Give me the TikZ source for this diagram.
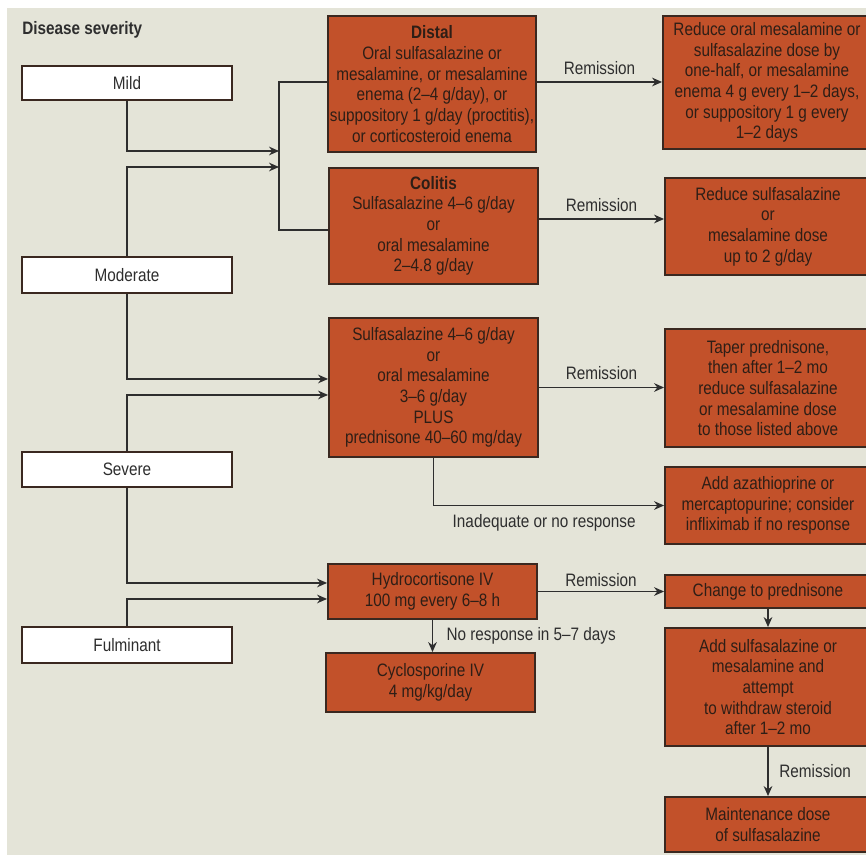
\documentclass[tikz,border=0pt]{standalone}
\usepackage{fontspec}
\setmainfont[FakeStretch=0.85]{Liberation Sans}
\usetikzlibrary{arrows.meta}
\definecolor{bgc}{HTML}{E4E4D8}
\definecolor{boxc}{HTML}{C2512A}
\definecolor{edgec}{HTML}{3A2820}
\definecolor{txtc}{HTML}{2E1E16}
\definecolor{linec}{HTML}{2E2E2E}
\begin{document}
\begin{tikzpicture}[x=0.75pt,y=-0.75pt,
  every node/.style={font=\fontsize{13.5pt}{15.5pt}\selectfont, align=center, inner sep=0pt},
  tbox/.style={draw=edgec, line width=1.4pt, fill=boxc, text=txtc},
  sbox/.style={draw=edgec, line width=1.1pt, fill=white, text=linec, minimum width=157.5pt},
  sz/.style 2 args={minimum width=#1*0.75pt, minimum height=#2*0.75pt},
  arr/.style={draw=linec, line width=1.1pt, -{Stealth[length=7.5pt,width=6.5pt]}},
  ln/.style={draw=linec, line width=1.1pt},
  lbl/.style={text=linec}
]
\useasboundingbox (0,0) rectangle (866,855);
\fill[white] (0,0) rectangle (866,855);
\fill[bgc] (7,8) rectangle (866,855);

% title
\node[lbl, anchor=west, font=\fontsize{13.5pt}{15.5pt}\selectfont\bfseries] (title) at (22,30) {Disease severity};

% severity boxes
\node[sbox, sz={210}{34}] (mild) at (127,83) {Mild};
\node[sbox, sz={210}{36}] (moderate) at (127,275) {Moderate};
\node[sbox, sz={210}{35}] (severe) at (127,469.5) {Severe};
\node[sbox, sz={210}{36}] (fulminant) at (127,645) {Fulminant};

% treatment boxes
\node[tbox, sz={208}{136}] (distal) at (432,84) {\textbf{Distal}\\Oral sulfasalazine or\\mesalamine, or mesalamine\\enema (2–4 g/day), or\\suppository 1 g/day (proctitis),\\or corticosteroid enema};
\node[tbox, sz={209}{116}] (colitis) at (433.5,226) {\textbf{Colitis}\\Sulfasalazine 4–6 g/day\\or\\oral mesalamine\\2–4.8 g/day};
\node[tbox, sz={209}{139}] (sevbox) at (433.5,387.5) {Sulfasalazine 4–6 g/day\\or\\oral mesalamine\\3–6 g/day\\PLUS\\prednisone 40–60 mg/day};
\node[tbox, sz={209}{55}] (hydro) at (432.5,591.5) {Hydrocortisone IV\\100 mg every 6–8 h};
\node[tbox, sz={209}{59}] (cyclo) at (430.5,682.5) {Cyclosporine IV\\4 mg/kg/day};

\node[tbox, sz={208}{133}] (reduce1) at (767,82.5) {Reduce oral mesalamine or\\sulfasalazine dose by\\one-half, or mesalamine\\enema 4 g every 1–2 days,\\or suppository 1 g every\\1–2 days};
\node[tbox, sz={206}{97}] (reduce2) at (768,226.5) {Reduce sulfasalazine\\or\\mesalamine dose\\up to 2 g/day};
\node[tbox, sz={206}{118}] (taper) at (768,388) {Taper prednisone,\\then after 1–2 mo\\reduce sulfasalazine\\or mesalamine dose\\to those listed above};
\node[tbox, sz={206}{77}] (aza) at (768,505.5) {Add azathioprine or\\mercaptopurine; consider\\infliximab if no response};
\node[tbox, sz={206}{33}] (change) at (768,591.5) {Change to prednisone};
\node[tbox, sz={206}{118}] (addsulf) at (768,687) {Add sulfasalazine or\\mesalamine and\\attempt\\to withdraw steroid\\after 1–2 mo};
\node[tbox, sz={206}{55}] (maint) at (768,824.5) {Maintenance dose\\of sulfasalazine};

% bracket for mild/moderate
\coordinate (bt) at (279,82);
\coordinate (bb) at (279,230);
\coordinate (m1) at (279,151);
\coordinate (m2) at (279,167);
\draw[ln] (distal.west |- bt) -- (bt) -- (bb) -- (colitis.west |- bb);
\draw[arr] (mild.south) |- (m1);
\draw[arr] (moderate.north) |- (m2);

% moderate/severe to severe treatment
\draw[arr] (moderate.south) |- ([yshift=6.4pt]sevbox.west);
\draw[arr] (severe.north) |- ([yshift=-5.6pt]sevbox.west);

% severe/fulminant to hydrocortisone
\draw[arr] (severe.south) |- ([yshift=6.4pt]hydro.west);
\draw[arr] (fulminant.north) |- ([yshift=-5.6pt]hydro.west);

% remission arrows
\draw[arr] ([yshift=1.5pt]distal.east) -- ([yshift=1.5pt]distal.east -| reduce1.west)
  node[lbl, midway, above=5pt] {Remission};
\draw[arr] ([yshift=5.25pt]colitis.east) -- ([yshift=5.25pt]colitis.east -| reduce2.west)
  node[lbl, midway, above=5pt] {Remission};
\draw[arr] (sevbox.east) -- (sevbox.east -| taper.west)
  node[lbl, midway, above=5pt] {Remission};
\draw[arr] (sevbox.south) |- (aza.west)
  node[lbl, pos=0.74, below=6pt] {Inadequate or no response};
\draw[arr] (hydro.east) -- (change.west)
  node[lbl, midway, above=3pt] {Remission};
\draw[arr] (hydro.south) -- (hydro.south |- cyclo.north)
  node[lbl, midway, anchor=west, xshift=10pt] {No response in 5–7 days};
\draw[arr] (change.south) -- (addsulf.north);
\draw[arr] (addsulf.south) -- (maint.north)
  node[lbl, midway, anchor=west, xshift=8pt] {Remission};
\end{tikzpicture}
\end{document}
